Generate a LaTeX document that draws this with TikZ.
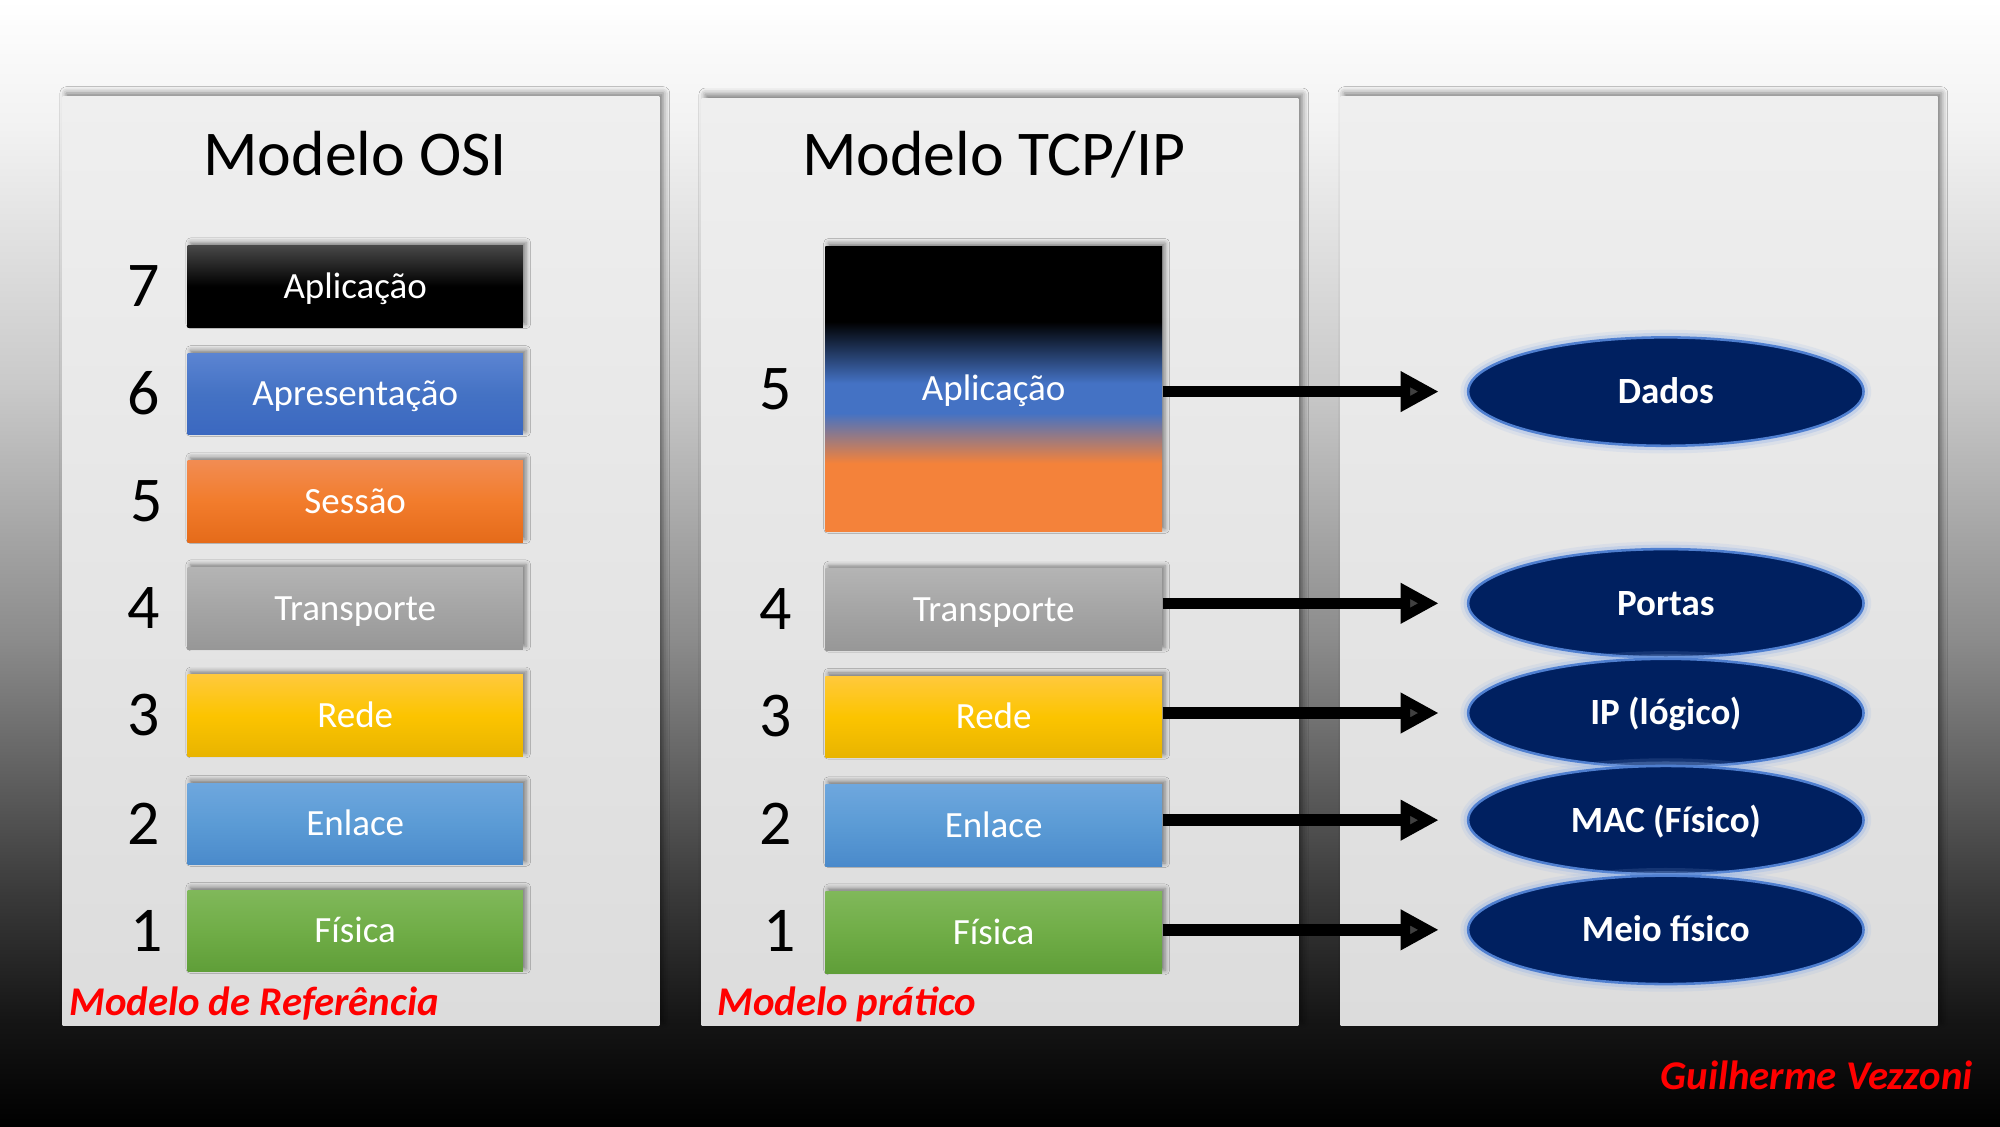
\documentclass[tikz,border=0pt]{standalone}
\usepackage{fontspec}
\setmainfont{Carlito}
\usetikzlibrary{shapes.geometric,arrows.meta,shadows.blur}

\definecolor{bgA}{HTML}{151515}
\definecolor{bgB}{HTML}{3A3A3A}
\definecolor{bgC}{HTML}{8C8C8C}
\definecolor{bgD}{HTML}{CACACA}
\definecolor{bgE}{HTML}{F2F2F2}
\definecolor{acc1}{HTML}{4472C4}
\definecolor{acc1t}{HTML}{5B84D2}
\definecolor{acc1b}{HTML}{3B68C0}
\definecolor{acc2}{HTML}{F27C2C}
\definecolor{acc2t}{HTML}{F28C52}
\definecolor{acc2b}{HTML}{E56B1A}
\definecolor{acc3}{HTML}{A5A5A5}
\definecolor{acc3t}{HTML}{B4B4B4}
\definecolor{acc3b}{HTML}{979797}
\definecolor{acc4}{HTML}{FCC400}
\definecolor{acc4t}{HTML}{FFC93C}
\definecolor{acc4b}{HTML}{E8B400}
\definecolor{acc5}{HTML}{5B9BD5}
\definecolor{acc5t}{HTML}{6EA7DE}
\definecolor{acc5b}{HTML}{4A8ACB}
\definecolor{acc6}{HTML}{70AD47}
\definecolor{acc6t}{HTML}{80B85A}
\definecolor{acc6b}{HTML}{5F9E38}
\definecolor{tcporange}{HTML}{F4823A}
\definecolor{navy}{HTML}{002060}
\definecolor{glow}{HTML}{4F7FD0}
\definecolor{glowlight}{HTML}{8FB0E8}
\definecolor{panelT}{HTML}{EFEFEF}
\definecolor{panelB}{HTML}{DCDCDC}
\definecolor{redtxt}{HTML}{FF0000}

\pgfdeclareverticalshading{slidebg}{100bp}{color(0bp)=(black); color(25bp)=(black); color(29.7bp)=(bgA); color(35.35bp)=(bgB); color(46.7bp)=(bgC); color(58bp)=(bgD); color(69.35bp)=(bgE); color(75bp)=(white); color(100bp)=(white)}
\pgfdeclareverticalshading{appmix}{100bp}{color(0bp)=(tcporange); color(37bp)=(tcporange); color(45.8bp)=(acc1); color(51bp)=(acc1); color(61.8bp)=(black); color(100bp)=(black)}

\tikzset{
  panel/.style={top color=panelT, bottom color=panelB,
    blur shadow={shadow xshift=1.5pt, shadow yshift=1.5pt, shadow blur radius=2.5pt, shadow opacity=50}},
  layerbox/.style={rectangle, minimum width=131.5pt, minimum height=32pt, inner sep=0pt,
    text=white, font=\fontsize{14.5}{17}\selectfont, text height=9.3pt, text depth=0pt,
    blur shadow={shadow xshift=1.2pt, shadow yshift=1.2pt, shadow blur radius=1.8pt, shadow opacity=45}},
  l7/.style={layerbox, top color=black!72, bottom color=black, middle color=black},
  l6/.style={layerbox, top color=acc1t, bottom color=acc1b, middle color=acc1},
  l5/.style={layerbox, top color=acc2t, bottom color=acc2b, middle color=acc2},
  l4/.style={layerbox, top color=acc3t, bottom color=acc3b, middle color=acc3},
  l3/.style={layerbox, top color=acc4t, bottom color=acc4b, middle color=acc4},
  l2/.style={layerbox, top color=acc5t, bottom color=acc5b, middle color=acc5},
  l1/.style={layerbox, top color=acc6t, bottom color=acc6b, middle color=acc6},
  num/.style={font=\fontsize{25}{30}\selectfont, text height=15.8pt, text depth=0pt, inner sep=0pt},
  ttl/.style={font=\fontsize{25}{30}\selectfont, text height=16.3pt, text depth=0pt, inner sep=0pt},
  unit/.style={ellipse, fill=navy, minimum width=155pt, minimum height=42.5pt, inner sep=0pt,
    text=white, font=\bfseries\fontsize{14.5}{17}\selectfont, text height=9.3pt, text depth=0pt,
    draw=glow, line width=1pt,
    preaction={draw=glowlight, draw opacity=0.15, line width=6pt},
    preaction={draw=glowlight, draw opacity=0.3, line width=3.5pt}},
  redlabel/.style={text=redtxt, font=\bfseries\itshape\fontsize{16}{19}\selectfont, inner sep=0pt},
  bigarrow/.style={line width=4.5pt, -{Triangle[length=15pt,width=15pt]}, shorten >=11pt},
}

\begin{document}
\begin{tikzpicture}[x=0.5pt, y=-0.5pt]
  % background
  \shade[shading=slidebg] (0,0) rectangle (1568,883);
  \useasboundingbox (0,0) rectangle (1568,883);

  % panels
  \path[panel] (49,76) rectangle (517,804);
  \path[panel] (550,77) rectangle (1018,804);
  \path[panel] (1051,76) rectangle (1519,804);

  % titles
  \node[ttl] (tosi) at (278.5,121) {Modelo OSI};
  \node[ttl] (ttcp) at (779,121) {Modelo TCP/IP};

  % OSI layers
  \node[l7] (o7) at (278.5,224.5) {Aplicação};
  \node[l6] (o6) at (278.5,309) {Apresentação};
  \node[l5] (o5) at (278.5,393) {Sessão};
  \node[l4] (o4) at (278.5,477) {Transporte};
  \node[l3] (o3) at (278.5,561) {Rede};
  \node[l2] (o2) at (278.5,646) {Enlace};
  \node[l1] (o1) at (278.5,730) {Física};

  \node[num] (on7) at (113,224.5) {7};
  \node[num] (on6) at (113,309) {6};
  \node[num] (on5) at (115,393) {5};
  \node[num] (on4) at (113,477) {4};
  \node[num] (on3) at (113,561) {3};
  \node[num] (on2) at (113,646) {2};
  \node[num] (on1) at (115,730) {1};

  % TCP/IP layers
  \node[layerbox, shading=appmix, minimum height=112pt, minimum width=132pt] (tapl) at (779,305) {Aplicação};
  \node[l4, minimum width=132pt] (t4) at (779,478) {Transporte};
  \node[l3, minimum width=132pt] (t3) at (779,562) {Rede};
  \node[l2, minimum width=132pt] (t2) at (779,647) {Enlace};
  \node[l1, minimum width=132pt] (t1) at (779,731) {Física};

  \node[num] (tn5) at (608,305) {5};
  \node[num] (tn4) at (608,478) {4};
  \node[num] (tn3) at (608,562) {3};
  \node[num] (tn2) at (608,646) {2};
  \node[num] (tn1) at (611,730) {1};

  % data units
  \node[unit] (dados) at (1306,307) {Dados};
  \node[unit] (portas) at (1306,473) {Portas};
  \node[unit] (ip) at (1306,559) {IP (lógico)};
  \node[unit] (mac) at (1306,643) {MAC (Físico)};
  \node[unit] (meio) at (1306,729) {Meio físico};

  % arrows
  \draw[bigarrow] (dados.west -| tapl.east) -- (dados.west);
  \draw[bigarrow] (portas.west -| t4.east) -- (portas.west);
  \draw[bigarrow] (ip.west -| t3.east) -- (ip.west);
  \draw[bigarrow] (mac.west -| t2.east) -- (mac.west);
  \draw[bigarrow] (meio.west -| t1.east) -- (meio.west);

  % red labels
  \node[redlabel, anchor=base west] (refm) at (54,796) {Modelo de Referência};
  \node[redlabel, anchor=base west] (pratm) at (562,796) {Modelo prático};
  \node[redlabel, anchor=base east] (author) at (1547,854) {Guilherme Vezzoni};
\end{tikzpicture}
\end{document}
